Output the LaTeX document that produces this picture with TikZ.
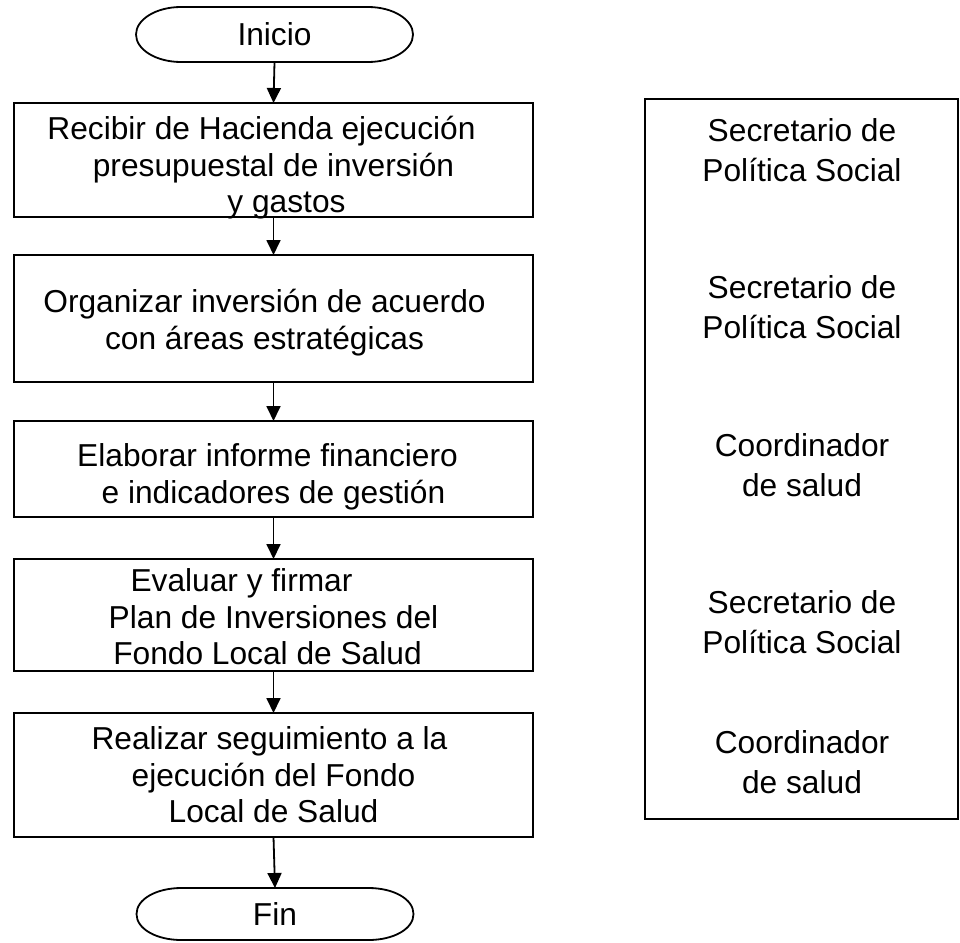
\documentclass[tikz,border=0pt]{standalone}
\usepackage{fontspec}
\setmainfont{Liberation Sans}
\usetikzlibrary{arrows.meta,calc}
\newcommand\drawterm[1]{%
  \draw[line width=1.8pt]
    ($(#1.north west)+(45,0)$) -- ($(#1.north east)+(-45,0)$)
    .. controls ($(#1.north east)+(-20,0)$) and ($(#1.east)+(0,-15)$) .. (#1.east)
    .. controls ($(#1.east)+(0,15)$) and ($(#1.south east)+(-20,0)$) .. ($(#1.south east)+(-45,0)$)
    -- ($(#1.south west)+(45,0)$)
    .. controls ($(#1.south west)+(20,0)$) and ($(#1.west)+(0,15)$) .. (#1.west)
    .. controls ($(#1.west)+(0,-15)$) and ($(#1.north west)+(20,0)$) .. ($(#1.north west)+(45,0)$)
    -- cycle;}
\begin{document}
\begin{tikzpicture}[x=1pt,y=-1pt,
  every node/.style={inner sep=0pt,outer sep=0pt},
  term/.style={minimum width=277pt,font=\fontsize{31.7}{37}\selectfont},
  procbox/.style={draw,line width=1.8pt,minimum width=519pt},
  ptext/.style={align=center,font=\fontsize{31.7}{36.5}\selectfont},
  role/.style={align=center,font=\fontsize{31.7}{39.5}\selectfont},
  flow/.style={line width=1.8pt,-{Triangle[length=15pt,width=14pt]}}]
\useasboundingbox (0,0) rectangle (960,942);
\node[term,minimum height=55pt] (ini) at (274.5,34.5) {Inicio};
\drawterm{ini}
\node[procbox,minimum height=114pt] (b1) at (273.5,160) {};
\node[procbox,minimum height=127pt] (b2) at (273.5,318.5) {};
\node[procbox,minimum height=96pt] (b3) at (273.5,469) {};
\node[procbox,minimum height=112pt] (b4) at (273.5,615) {};
\node[procbox,minimum height=124pt] (b5) at (273.5,775) {};
\node[ptext] (t1) at ($(b1.center)+(0,8)$) {Recibir de Hacienda ejecución\hspace*{24pt}\\presupuestal de inversión\hspace*{14pt}\\\hspace*{26pt}y gastos};
\node[ptext] (t2) at ($(b2.center)+(-9,4)$) {Organizar inversión de acuerdo\\con áreas estratégicas};
\node[ptext] (t3) at ($(b3.center)+(0,8)$) {Elaborar informe financiero\hspace*{12pt}\\e indicadores de gestión};
\node[ptext] (t4) at ($(b4.center)+(0,2)$) {Evaluar y firmar\hspace*{64pt}\\Plan de Inversiones del\\Fondo Local de Salud\hspace*{12pt}};
\node[ptext] (t5) at (b5.center) {Realizar seguimiento a la\hspace*{8pt}\\ejecución del Fondo\\Local de Salud};
\node[term,minimum height=52pt] (fin) at (275,914) {Fin};
\drawterm{fin}
\draw[flow] (ini.south) -- (b1.north);
\draw[flow] (b1.south) -- (b2.north);
\draw[flow] (b2.south) -- (b3.north);
\draw[flow] (b3.south) -- (b4.north);
\draw[flow] (b4.south) -- (b5.north);
\draw[flow] (b5.south) -- (fin.north);
\node[draw,line width=1.8pt,minimum width=313pt,minimum height=720pt] (rb) at (801.75,459) {};
\node[role] (r1) at (802,150) {Secretario de\\Política Social};
\node[role] (r2) at (802,307) {Secretario de\\Política Social};
\node[role] (r3) at (802,465) {Coordinador\\de salud};
\node[role] (r4) at (802,622) {Secretario de\\Política Social};
\node[role] (r5) at (802,762) {Coordinador\\de salud};
\end{tikzpicture}
\end{document}
